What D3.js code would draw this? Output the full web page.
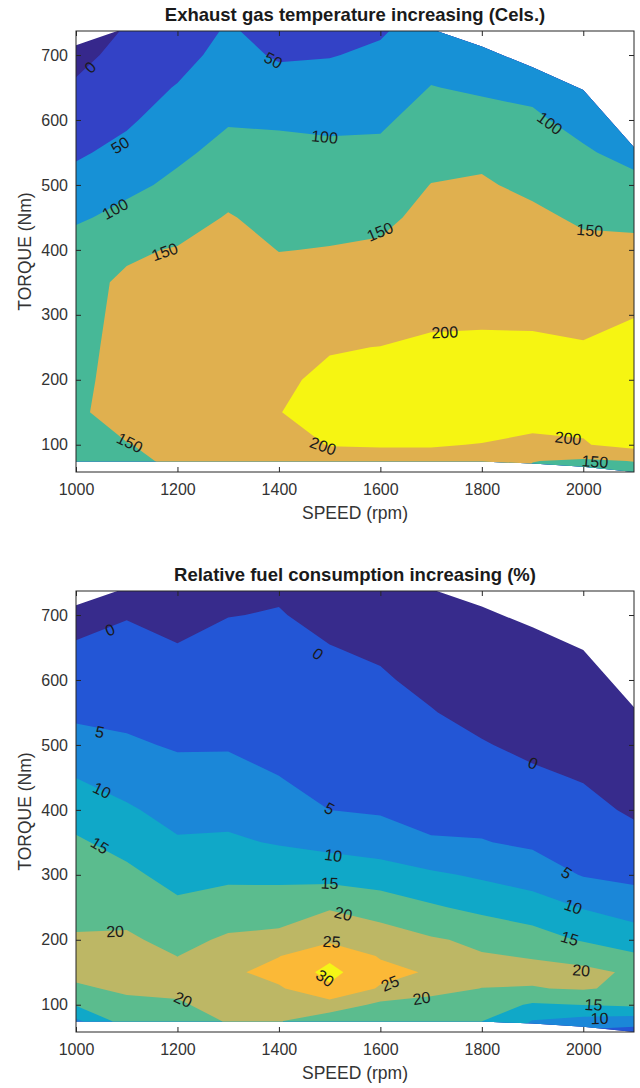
<!DOCTYPE html>
<html>
<head>
<meta charset="utf-8">
<script src="https://cdn.jsdelivr.net/npm/d3@7"></script>
<style>
  body { margin: 0; background: #fff; }
  svg text { font-family: "Liberation Sans", Arial, Helvetica, sans-serif; }
</style>
</head>
<body>
<svg id="chart" width="640" height="1088"></svg>
<script>
// Grid columns: engine speed (rpm), shared by both maps
const speeds = [1000, 1100, 1200, 1300, 1400, 1500, 1600, 1700, 1800, 1900, 2000, 2100];
// Full load curve and lowest measured torque (Nm) at each speed
const maxTorque = [715, 742, 760, 760, 760, 760, 760, 740, 713, 681, 646, 558];
const minTorque = [74, 74, 74, 74, 74, 74, 74, 74, 74, 71, 66, 58];
const speedTicks = [1000, 1200, 1400, 1600, 1800, 2000];
const torqueTicks = [100, 200, 300, 400, 500, 600, 700];

// Exhaust gas temperature increase (Cels.), one row per torque, one column per speed
const egtTorques = [50, 75, 100, 150, 200, 250, 300, 350, 400, 450, 500, 550, 600, 650, 700, 750];
const egtValues = [
  [130, 130, 150, 165, 175, 180, 180, 182, 182, 140, 130, 130],
  [134, 140, 158, 170, 182, 190, 190, 190, 190, 151, 144, 151],
  [138, 148, 165, 175, 190, 201, 202, 202, 199, 193, 197, 216],
  [142, 171, 175, 182, 199, 215, 218, 220, 218, 213, 212, 213],
  [140, 166, 176, 183, 195, 206, 212, 214, 215, 214, 210, 214],
  [140, 161, 175, 182, 188, 198, 200.5, 206, 207, 207, 203, 209],
  [140, 157.5, 172, 180, 178, 185, 186, 193, 194, 193, 189, 199],
  [140, 155, 165, 176, 165, 170, 172, 182, 184, 181, 174, 182],
  [125, 145, 152.5, 168, 149, 151.7, 156, 172, 174, 170, 160, 162],
  [92.3, 115.4, 131.7, 153, 136, 137.4, 140.6, 162, 164, 158, 144, 139],
  [66.8, 88, 110.8, 133.7, 123.2, 123, 125, 151, 154, 142, 125, 112.4],
  [43.6, 63.4, 90.8, 114.3, 110.3, 108.6, 109.4, 134.4, 142, 124.6, 105.4, 85.5],
  [24.8, 43.4, 71.8, 96, 95, 91.3, 93, 117.9, 115.5, 107, 86, 70],
  [6, 29, 52.7, 81, 69.7, 69.6, 75.5, 101.3, 94, 89.4, 66.6, 55],
  [-12.8, 14.5, 33.6, 66, 44.4, 47.8, 58, 84.8, 72.4, 71.8, 47, 40],
  [-31.6, 0, 14.5, 52, 19, 26, 40.6, 68.3, 51, 54, 28, 25]
];
const egtLevels = [0, 50, 100, 150, 200];
const egtColors = ["#36288c", "#3342c6", "#1791d6", "#47b897", "#e0b04f", "#f6f512"];
const egtLabels = [
  { speed: 1028, torque: 681, text: "0" },
  { speed: 1389, torque: 692, text: "50" },
  { speed: 1087, torque: 561, text: "50" },
  { speed: 1077, torque: 463, text: "100" },
  { speed: 1490, torque: 574, text: "100" },
  { speed: 1934, torque: 595, text: "100" },
  { speed: 1175, torque: 397, text: "150" },
  { speed: 1106, torque: 103, text: "150" },
  { speed: 1599, torque: 428, text: "150" },
  { speed: 2013, torque: 430, text: "150" },
  { speed: 1727, torque: 273, text: "200" },
  { speed: 1487, torque: 98, text: "200" },
  { speed: 1970, torque: 110, text: "200" },
  { speed: 2023, torque: 74, text: "150" }
];

// Relative fuel consumption increase (%)
const fuelTorques = [50, 75, 100, 125, 150, 175, 200, 250, 300, 350, 400, 450, 500, 550, 600, 650, 700, 750];
const fuelValues = [
  [6, 15.2, 17, 19.5, 19.8, 15, 15.5, 15.5, 13.5, 7, 2, 0.9],
  [9, 17.5, 18, 20.3, 20.3, 16.75, 17, 17, 15.1, 9.8, 8.2, 7.3],
  [15.4, 18.5, 19.5, 21.5, 22, 23, 18.9, 19, 17.6, 14.4, 15.1, 16],
  [19.1, 21, 20.9, 23, 24.4, 29.25, 24.5, 20.9, 19.95, 19.8, 20.4, 18.9],
  [21.5, 22.5, 21.2, 24, 26.8, 31.3, 26.5, 24.5, 21.2, 21, 21, 19.4],
  [22.2, 22.6, 19.95, 22.5, 24.85, 29, 24.6, 23, 20.3, 19.75, 18.5, 15.6],
  [20.4, 20.7, 18.63, 20.7, 21.2, 24, 22.5, 20.5, 19.1, 17.1, 14.5, 12.8],
  [18.74, 18.38, 16, 17.3, 17.8, 19.6, 17.8, 15.6, 13.7, 12.36, 9.7, 7.5],
  [17.2, 16.06, 13.28, 14, 13.7, 13.2, 12.4, 10.75, 9.3, 7.6, 4.7, 3.86],
  [15.6, 13.45, 10.5, 10.75, 9.6, 8.5, 7.4, 5.3, 5.2, 4.24, 3.16, 1.6],
  [13.06, 10.6, 8.39, 8.44, 7.3, 4.98, 4.49, 3.93, 3.48, 2.5, 1.4, -0.7],
  [9.94, 8.04, 6.4, 6.4, 5.05, 4, 3.48, 2.69, 1.9, 0.76, -0.3, -3],
  [6.7, 5.6, 4.59, 4.65, 4.04, 3, 2.47, 1.44, 0.3, -1, -2, -5.2],
  [4.11, 3.94, 3.13, 3.5, 3.08, 2, 1.46, 0.2, -1.3, -2.7, -3.8, -7.5],
  [2.3, 2.56, 1.66, 2.3, 2.1, 1, 0.45, -1, -2.8, -4.4, -5.5, -9.8],
  [0.4, 1.17, 0.19, 1.16, 1.15, 0.1, -0.6, -2.3, -4.4, -6.2, -7.2, -12],
  [-1.4, -0.22, -1.3, -0.1, 0.2, -1, -1.6, -3.5, -6, -7.9, -9, -14.3],
  [-3.3, -1.6, -2.7, -1.2, -0.6, -2, -2.6, -4.8, -7.6, -9.7, -10.7, -16.6]
];
const fuelLevels = [0, 5, 10, 15, 20, 25, 30];
const fuelColors = ["#372b8c", "#2356d6", "#1b87d8", "#10a8c8", "#5bbc8e", "#bdb765", "#fbb937", "#f5f516"];
const fuelLabels = [
  { speed: 1067, torque: 677, text: "0" },
  { speed: 1477, torque: 640, text: "0" },
  { speed: 1901, torque: 472, text: "0" },
  { speed: 1047, torque: 520, text: "5" },
  { speed: 1500, torque: 402, text: "5" },
  { speed: 1967, torque: 303, text: "5" },
  { speed: 1051, torque: 430, text: "10" },
  { speed: 1507, torque: 330, text: "10" },
  { speed: 1980, torque: 251, text: "10" },
  { speed: 1047, torque: 345, text: "15" },
  { speed: 1500, torque: 287, text: "15" },
  { speed: 1973, torque: 202, text: "15" },
  { speed: 1077, torque: 213, text: "20" },
  { speed: 1527, torque: 240, text: "20" },
  { speed: 1211, torque: 108, text: "20" },
  { speed: 1681, torque: 110, text: "20" },
  { speed: 1996, torque: 153, text: "20" },
  { speed: 1504, torque: 197, text: "25" },
  { speed: 1619, torque: 133, text: "25" },
  { speed: 1491, torque: 141, text: "30" },
  { speed: 2020, torque: 100, text: "15" },
  { speed: 2032, torque: 79, text: "10" }
];

const svg = d3.select("#chart");
const defs = svg.append("defs");
const x = d3.scaleLinear().domain([1000, 2100]).range([76, 634]);
const plotH = 441;

function drawPanel(id, top, title, torques, values, levels, colors, labels) {
  const y = d3.scaleLinear().domain([58, 737]).range([top + plotH, top]);
  const n = speeds.length, m = torques.length;
  const g = svg.append("g");

  // clip to the axes box and to the measured torque envelope
  defs.append("clipPath").attr("id", id + "-box").append("rect")
    .attr("x", x(1000)).attr("y", top)
    .attr("width", x(2100) - x(1000)).attr("height", plotH);
  const envelope = speeds.map((s, i) => [s, maxTorque[i]])
    .concat(speeds.map((s, i) => [s, minTorque[i]]).reverse());
  defs.append("clipPath").attr("id", id + "-env").append("path")
    .attr("d", d3.line().x(d => x(d[0])).y(d => y(d[1]))(envelope) + "Z");

  const fills = g.append("g").attr("clip-path", `url(#${id}-box)`)
    .append("g").attr("clip-path", `url(#${id}-env)`);

  // grid index -> data units (samples sit at index + 0.5 in contour space)
  const col = d3.scaleLinear().domain(d3.range(n)).range(speeds).clamp(true);
  const row = d3.scaleLinear().domain(d3.range(m)).range(torques).clamp(true);
  const path = d3.geoPath(d3.geoTransform({
    point(gx, gy) { this.stream.point(x(col(gx - 0.5)), y(row(gy - 0.5))); }
  }));

  fills.append("rect")
    .attr("x", x(1000)).attr("y", top)
    .attr("width", x(2100) - x(1000)).attr("height", plotH)
    .attr("fill", colors[0]);

  const bands = d3.contours().size([n, m]).thresholds(levels)(values.flat());
  fills.selectAll("path")
    .data(bands)
    .join("path")
    .attr("d", path)
    .attr("fill", (d, i) => colors[i + 1]);

  // axes with inward ticks, mirrored on top and right
  const tickColor = "#262626";
  const bottomAxis = g.append("g").attr("transform", `translate(0,${top + plotH})`)
    .call(d3.axisBottom(x).tickValues(speedTicks).tickFormat(d3.format("d"))
      .tickSize(-5).tickPadding(12));
  const leftAxis = g.append("g").attr("transform", `translate(${x(1000)},0)`)
    .call(d3.axisLeft(y).tickValues(torqueTicks).tickFormat(d3.format("d"))
      .tickSize(-5).tickPadding(8));
  g.append("g").attr("transform", `translate(0,${top})`)
    .call(d3.axisTop(x).tickValues(speedTicks).tickSize(-5).tickFormat(() => ""));
  g.append("g").attr("transform", `translate(${x(2100)},0)`)
    .call(d3.axisRight(y).tickValues(torqueTicks).tickSize(-5).tickFormat(() => ""));
  g.selectAll(".domain").remove();
  g.selectAll(".tick line").attr("stroke", tickColor);
  [bottomAxis, leftAxis].forEach(a => a.selectAll("text")
    .attr("font-size", 16).attr("fill", "#333"));

  g.append("rect")
    .attr("x", x(1000)).attr("y", top)
    .attr("width", x(2100) - x(1000)).attr("height", plotH)
    .attr("fill", "none").attr("stroke", tickColor).attr("stroke-width", 1);

  // contour labels, turned along the local contour direction
  const colIdx = d3.scaleLinear().domain(speeds).range(d3.range(n)).clamp(true);
  const rowIdx = d3.scaleLinear().domain(torques).range(d3.range(m)).clamp(true);
  function valueAt(s, t) {
    const fi = colIdx(s), fj = rowIdx(t);
    const i = Math.min(Math.floor(fi), n - 2), j = Math.min(Math.floor(fj), m - 2);
    const a = fi - i, b = fj - j;
    return (1 - b) * ((1 - a) * values[j][i] + a * values[j][i + 1]) +
      b * ((1 - a) * values[j + 1][i] + a * values[j + 1][i + 1]);
  }
  labels.forEach(l => {
    const px = x(l.speed), py = y(l.torque);
    const f = (u, v) => valueAt(x.invert(u), y.invert(v));
    const gx = f(px + 3, py) - f(px - 3, py);
    const gy = f(px, py + 3) - f(px, py - 3);
    let ang = Math.atan2(gx, -gy) * 180 / Math.PI;
    while (ang > 90) ang -= 180;
    while (ang <= -90) ang += 180;
    g.append("text")
      .attr("transform", `translate(${px},${py}) rotate(${ang})`)
      .attr("text-anchor", "middle")
      .attr("dy", "0.35em")
      .attr("font-size", 16)
      .attr("fill", "#1a1a1a")
      .text(l.text);
  });

  g.append("text")
    .attr("x", (x(1000) + x(2100)) / 2).attr("y", top - 10)
    .attr("text-anchor", "middle")
    .attr("font-size", 18.5).attr("font-weight", "bold").attr("fill", "#1a1a1a")
    .text(title);
  g.append("text")
    .attr("x", (x(1000) + x(2100)) / 2).attr("y", top + plotH + 47)
    .attr("text-anchor", "middle")
    .attr("font-size", 17.5).attr("fill", "#333")
    .text("SPEED (rpm)");
  g.append("text")
    .attr("transform", `translate(31,${top + plotH / 2}) rotate(-90)`)
    .attr("text-anchor", "middle")
    .attr("font-size", 17.5).attr("fill", "#333")
    .text("TORQUE (Nm)");
}

drawPanel("egt", 31, "Exhaust gas temperature increasing (Cels.)",
  egtTorques, egtValues, egtLevels, egtColors, egtLabels);
drawPanel("fuel", 591, "Relative fuel consumption increasing (%)",
  fuelTorques, fuelValues, fuelLevels, fuelColors, fuelLabels);
</script>
</body>
</html>
